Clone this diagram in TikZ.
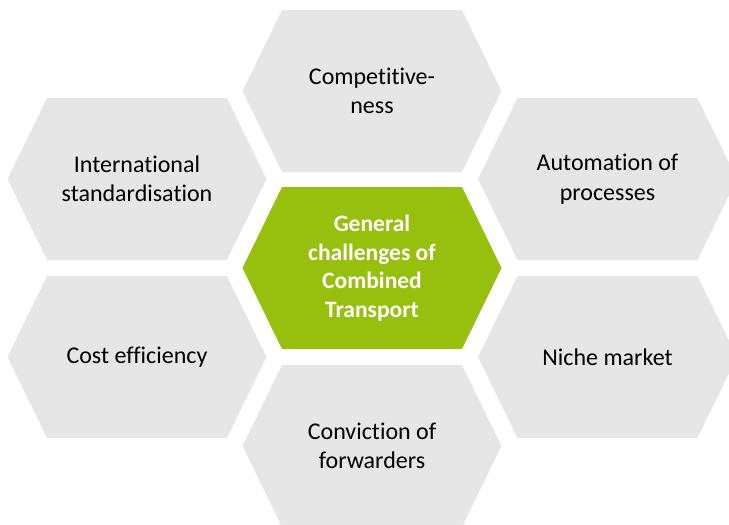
\documentclass[tikz,border=0pt]{standalone}
\usepackage{fontspec}
\setmainfont{Carlito}[Ligatures=NoCommon]
\definecolor{hexgray}{HTML}{E6E6E6}
\definecolor{hexgreen}{HTML}{97BF0D}
\newcommand{\hexfill}[3]{%
  \fill[#3] (#1-129.5,#2) -- (#1-90,#2-81) -- (#1+90,#2-81) -- (#1+129.5,#2)
    -- (#1+90,#2+81) -- (#1-90,#2+81) -- cycle;}
\tikzset{
  hextext/.style={align=center, text=black, font=\fontsize{24}{29.5}\selectfont},
  hexcentertext/.style={align=center, text=white, font=\bfseries\fontsize{23.5}{28.5}\selectfont}
}
\begin{document}
\begin{tikzpicture}[x=1pt,y=-1pt]
\useasboundingbox (0,0) rectangle (729,525);
\begin{scope}
\clip (0,0) rectangle (729,525);
\hexfill{372}{91}{hexgray}
\hexfill{372}{446}{hexgray}
\hexfill{137}{179}{hexgray}
\hexfill{137}{357}{hexgray}
\hexfill{607.5}{179}{hexgray}
\hexfill{607.5}{357}{hexgray}
\hexfill{372}{268}{hexgreen}
\end{scope}
\node[hexcentertext] (center) at (372,268) {General\\challenges of\\Combined\\Transport};
\node[hextext] (comp) at (372,91) {Competitive-\\ness};
\node[hextext] (conv) at (372,446) {Conviction of\\forwarders};
\node[hextext] (intl) at (137,179) {International\\standardisation};
\node[hextext] (cost) at (137,357) {Cost efficiency};
\node[hextext] (auto) at (607.5,179) {Automation of\\processes};
\node[hextext] (niche) at (607.5,357) {Niche market};
\end{tikzpicture}
\end{document}
